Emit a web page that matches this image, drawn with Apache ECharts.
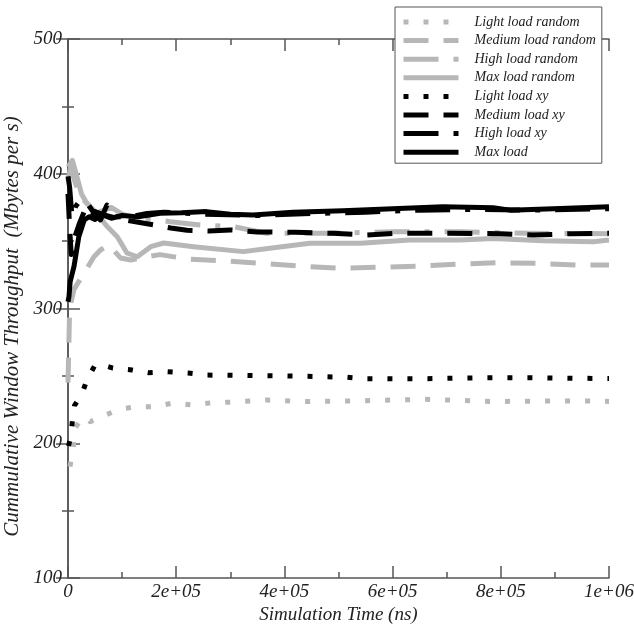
<!DOCTYPE html>
<html>
<head>
<meta charset="utf-8">
<script src="https://cdn.jsdelivr.net/npm/echarts@6/dist/echarts.min.js"></script>
<style>
  html, body { margin: 0; padding: 0; background: #fff; }
  #chart { width: 634px; height: 625px; }
</style>
</head>
<body>
<div id="chart"></div>
<script>
// Cumulative window throughput vs. simulation time, [time (ns), Mbytes/s]
var lightRandom = [[3700,182.6],[9800,197.4],[13000,211.3],[28000,219.7],[41000,216],[62000,219.7],[96000,225.4],[127000,227.1],[161000,227.1],[194000,229.9],[231000,228.4],[266000,230.1],[300000,230.5],[367000,232.1],[440000,230.9],[540000,231.5],[660000,232.6],[786000,231],[880000,231.3],[965000,231.4],[1000000,231]];
var mediumRandom = [[0,245],[3000,300],[11000,314],[20000,320],[30000,326.3],[48000,338.4],[60000,343.4],[76000,347.1],[97000,337.5],[116000,336],[140000,338],[170000,340],[225000,336.5],[293000,335.2],[361000,333.5],[429000,331.5],[503000,329.8],[571000,330.6],[651000,331.5],[725000,333],[792000,334],[866000,333.5],[940000,332.3],[1000000,332.3]];
var highRandom = [[0,395],[5000,405],[12000,395],[20000,386],[30000,380],[54000,371],[80000,375],[100000,370],[130000,367],[160000,366],[189000,364.4],[244000,362],[306000,360.7],[367000,355.8],[478000,355.8],[601000,357],[725000,357],[848000,355.8],[1000000,355.5]];
var maxRandom = [[0,405],[8000,410],[15000,400],[25000,385],[35000,378],[50000,372],[72000,361],[91000,353.3],[109000,341.2],[128000,338.4],[153000,345.9],[177000,348.6],[232000,345.9],[324000,342.2],[373000,344.7],[447000,348.4],[540000,348.4],[632000,350.8],[725000,350.8],[786000,352],[879000,350.3],[971000,349.6],[1000000,350.8]];
var lightXy = [[1000,198],[5000,205],[8000,216],[12000,228],[20000,233],[25000,235.8],[35000,247],[50000,258],[60000,258.5],[83000,255.8],[118000,254.4],[148000,252.4],[182000,253.1],[222000,252.1],[256000,250.6],[330000,250.3],[400000,250],[460000,249.5],[515000,249],[550000,247.8],[660000,247.9],[750000,248.5],[850000,248.7],[920000,248.3],[1000000,248]];
var mediumXy = [[0,385],[3000,360],[6000,340],[10000,350],[20000,362],[30000,372],[40000,366],[50000,372],[70000,369],[100000,366],[130000,364],[159000,362],[190000,359.7],[220000,358],[260000,357.5],[300000,358.3],[350000,356.8],[420000,356.5],[490000,355.8],[550000,354.5],[610000,355.8],[700000,355.8],[800000,355.5],[860000,354.5],[930000,355.5],[1000000,355.8]];
var highXy = [[0,398],[3000,390],[7400,368.1],[14000,375.6],[23000,380.5],[35000,378.3],[48000,370.9],[60000,365.7],[72000,376.8],[85000,368.1],[116000,368.1],[146000,370.5],[177000,371.5],[250000,370],[350000,369],[450000,370.5],[550000,371.5],[650000,373],[750000,373.5],[850000,373],[1000000,374]];
var maxXy = [[0,305],[1800,308.8],[4000,320],[11000,331],[20000,353.3],[30000,365.7],[39000,368.1],[50000,366],[60000,370],[80000,367],[100000,369],[130000,368],[170000,370.6],[210000,371],[256000,371.9],[300000,370],[342000,369.4],[416000,371.4],[508000,372.6],[600000,374.1],[693000,375.6],[786000,374.8],[817000,373],[910000,374.3],[1000000,375.6]];

var seriesNames = ['Light load random', 'Medium load random', 'High load random', 'Max load random',
                   'Light load xy', 'Medium load xy', 'High load xy', 'Max load'];
var xTickLabels = ['0', '2e+05', '4e+05', '6e+05', '8e+05', '1e+06'];
var yTickLabels = ['100', '200', '300', '400', '500'];

var GREY = '#b7b7b7';
var BLACK = '#000000';
var SERIF = '"Liberation Serif", "DejaVu Serif", serif';

var lineDefs = [
  { data: lightRandom,  color: GREY,  dash: [5, 15] },
  { data: mediumRandom, color: GREY,  dash: [25, 15] },
  { data: highRandom,   color: GREY,  dash: [35, 15, 5, 15] },
  { data: maxRandom,    color: GREY,  dash: 'solid' },
  { data: lightXy,      color: BLACK, dash: [5, 15] },
  { data: mediumXy,     color: BLACK, dash: [25, 15] },
  { data: highXy,       color: BLACK, dash: [35, 15, 5, 15] },
  { data: maxXy,        color: BLACK, dash: 'solid' }
];

var series = lineDefs.map(function (d, i) {
  return {
    name: seriesNames[i],
    type: 'line',
    data: d.data,
    symbol: 'none',
    showSymbol: false,
    z: d.color === BLACK ? 3 : 2,
    lineStyle: { color: d.color, width: 5, type: d.dash, cap: 'butt', join: 'round' },
    itemStyle: { color: d.color }
  };
});

var axisLine = { show: true, lineStyle: { color: '#555', width: 1.5 } };
var labelFont = { fontFamily: SERIF, fontStyle: 'italic', fontSize: 19, color: '#222' };

function xAxisDef(pos, showLabels) {
  return {
    type: 'value', position: pos, min: 0, max: 1000000, interval: 200000,
    axisLine: axisLine,
    axisTick: { show: true, inside: true, length: 12, lineStyle: { color: '#555', width: 1.5 } },
    minorTick: { show: true, splitNumber: 2, length: 6, lineStyle: { color: '#555', width: 1.5 } },
    splitLine: { show: false },
    axisLabel: Object.assign({
      show: showLabels, margin: 4,
      formatter: function (v) { return xTickLabels[Math.round(v / 200000)]; }
    }, labelFont)
  };
}
function yAxisDef(pos, showLabels) {
  return {
    type: 'value', position: pos, min: 100, max: 500, interval: 100,
    axisLine: axisLine,
    axisTick: { show: true, inside: true, length: 12, lineStyle: { color: '#555', width: 1.5 } },
    minorTick: { show: true, splitNumber: 2, length: 6, lineStyle: { color: '#555', width: 1.5 } },
    splitLine: { show: false },
    axisLabel: Object.assign({
      show: showLabels, margin: 6,
      formatter: function (v) { return yTickLabels[Math.round((v - 100) / 100)]; }
    }, labelFont)
  };
}

var xBottom = xAxisDef('bottom', true);
xBottom.name = 'Simulation Time (ns)';
xBottom.nameLocation = 'middle';
xBottom.nameGap = 23;
xBottom.nameTextStyle = { fontFamily: SERIF, fontStyle: 'italic', fontSize: 19, color: '#222' };

var yLeft = yAxisDef('left', true);
yLeft.name = 'Cummulative Window Throughput  (Mbytes per s)';
yLeft.nameLocation = 'middle';
yLeft.nameGap = 31;
yLeft.nameTextStyle = { fontFamily: SERIF, fontStyle: 'italic', fontSize: 21, color: '#222', padding: [0, 36, 0, 0] };

var chart = echarts.init(document.getElementById('chart'), null, { renderer: 'canvas' });
chart.setOption({
  animation: false,
  backgroundColor: '#fff',
  grid: { left: 68, right: 25, top: 39, bottom: 47, containLabel: false, outerBoundsMode: 'none' },
  xAxis: [xBottom, xAxisDef('top', false)],
  yAxis: [yLeft, yAxisDef('right', false)],
  legend: {
    show: true,
    data: seriesNames,
    orient: 'vertical',
    left: 395,
    top: 7,
    padding: [8, 6, 4, 6],
    itemGap: 4.6,
    itemWidth: 55,
    itemHeight: 14,
    selectedMode: false,
    backgroundColor: '#fff',
    borderColor: '#555',
    borderWidth: 1,
    itemStyle: { opacity: 0 },
    lineStyle: { width: 5 },
    textStyle: { fontFamily: SERIF, fontStyle: 'italic', fontSize: 14, color: '#222', padding: [0, 0, 0, 11] }
  },
  series: series
});
</script>
</body>
</html>
